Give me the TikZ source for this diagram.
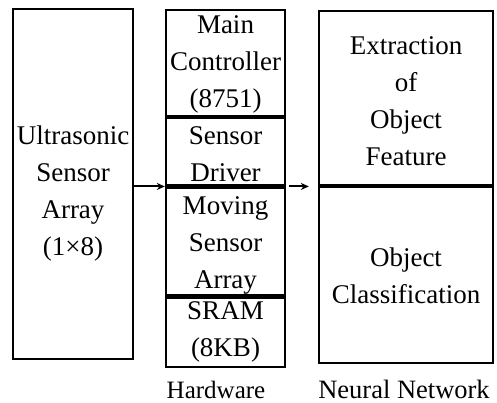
\documentclass[tikz,border=0pt]{standalone}
\usepackage{fontspec}
\setmainfont{Liberation Serif}
\usetikzlibrary{arrows.meta,positioning}

\begin{document}
\begin{tikzpicture}[x=1pt,y=-1pt,>=Stealth,
  cell/.style={draw,line width=2.3pt,inner sep=0pt,minimum width=119pt},
  txt/.style={inner sep=0pt,align=center,font=\fontsize{27}{37}\selectfont},
  lbl/.style={inner sep=0pt,anchor=base,font=\fontsize{25}{28}\selectfont},
  link/.style={line width=2pt,arrows={-Stealth[length=8pt,width=7pt]}}]
\useasboundingbox (0,0) rectangle (497,403);
% sensor
\node[cell,minimum width=120pt,minimum height=350pt] (usa) at (73,184) {};
\node[txt] (usatxt) at ([yshift=-9.5pt]usa.center) {Ultrasonic\\Sensor\\Array\\(1×8)};
% hardware
\node[cell,minimum height=106pt] (mc) at (225.5,63) {};
\node[cell,minimum height=67pt,below=0pt of mc] (sd) {};
\node[cell,minimum height=108pt,below=0pt of sd] (msa) {};
\node[cell,minimum height=69pt,below=0pt of msa] (sram) {};
\node[txt] (mctxt) at ([yshift=-1pt]mc.center) {Main\\Controller\\(8751)};
\node[txt] (sdtxt) at ([yshift=-2pt]sd.center) {Sensor\\Driver};
\node[txt] (msatxt) at ([yshift=-4pt]msa.center) {Moving\\Sensor\\Array};
\node[txt] (sramtxt) at (sram.center) {SRAM\\(8KB)};
% neural network
\node[cell,minimum width=174pt,minimum height=174pt] (eof) at (406,98) {};
\node[cell,minimum width=174pt,minimum height=176pt,below=0pt of eof] (oc) {};
\node[txt] (eoftxt) at ([yshift=-3pt]eof.center) {Extraction\\of\\Object\\Feature};
\node[txt] (octxt) at (oc.center) {Object\\Classification};
\draw[link] (usa.east |- sd.south) -- (sd.south west);
\draw[link,shorten <=3pt,shorten >=9pt] (sd.south east) -- (eof.south west |- sd.south east);
\node[lbl] (hw) at (216,398) {Hardware};
\node[lbl,font=\fontsize{26.5}{28}\selectfont] (nn) at (404,398) {Neural Network};
\end{tikzpicture}
\end{document}
